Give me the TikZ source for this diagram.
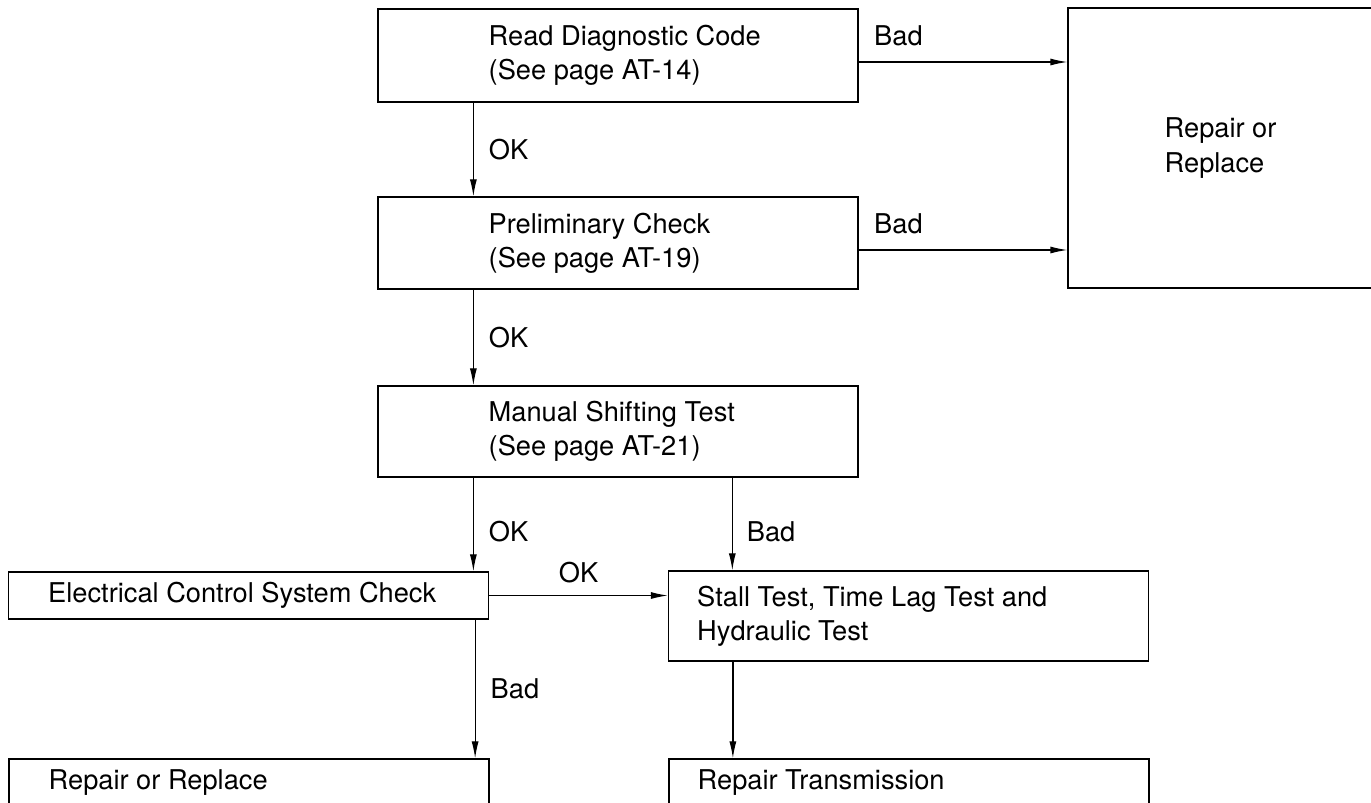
\documentclass[tikz,border=0pt]{standalone}
\usepackage{fontspec}
\setsansfont{TeX Gyre Heros}
\usetikzlibrary{arrows.meta}
\usetikzlibrary{positioning}

\begin{document}
\begin{tikzpicture}[x=0.02cm, y=-0.02cm,
	>={Latex[width=1.4mm,length=3.4mm]},
    box/.style = {rectangle, draw=black, line width=0.75pt,
                  minimum width=9.6cm, inner sep=0pt},
    txt/.style = {anchor=west, align=left, inner sep=0pt,
                  font=\sffamily\fontsize{15.5}{19.5}\selectfont},
    tag/.style = {txt, anchor=center}]
  \useasboundingbox (0,0) rectangle (1371,802);

  % boxes
  \node (diag) [box, minimum height=1.86cm] at (618,55.5) {};
  \node (prelim) [box, minimum height=1.84cm] at (618,243) {};
  \node (manual) [box, minimum height=1.82cm] at (618,431.5) {};
  \node (repl) [box, minimum height=5.6cm] at (1308,148) {};
  \node (elec) [box, minimum height=0.94cm] at (248.5,595.5) {};
  \node (stall) [box, minimum height=1.8cm] at (908.5,616) {};
  \node (fixit) [box, minimum height=0.94cm] at (249,782.5) {};
  \node (trans) [box, minimum height=0.94cm] at (909,782.5) {};

  % texts
  \node (diagtxt) [txt] at ([xshift=2.22cm]diag.west) {Read Diagnostic Code\\(See page AT-14)};
  \node (prelimtxt) [txt] at ([xshift=2.22cm]prelim.west) {Preliminary Check\\(See page AT-19)};
  \node (manualtxt) [txt] at ([xshift=2.22cm]manual.west) {Manual Shifting Test\\(See page AT-21)};
  \node (repltxt) [txt] at ([xshift=1.94cm]repl.west) {Repair or\\Replace};
  \node (electxt) [txt] at ([xshift=0.8cm]elec.west) {Electrical Control System Check};
  \node (stalltxt) [txt] at ([xshift=0.58cm]stall.west) {Stall Test, Time Lag Test and\\Hydraulic Test};
  \node (fixittxt) [txt] at ([xshift=0.8cm]fixit.west) {Repair or Replace};
  \node (transtxt) [txt] at ([xshift=0.58cm]trans.west) {Repair Transmission};

  \path[->, line width=0.7pt]
	([xshift=1.92cm]diag.south west) edge node[tag, right=0.3cm] {OK}
	  ([xshift=1.92cm]prelim.north west)
	([xshift=1.92cm]prelim.south west) edge node[tag, right=0.3cm] {OK}
	  ([xshift=1.92cm]manual.north west)
	([xshift=1.92cm]manual.south west) edge node[tag, pos=0.58, right=0.3cm] {OK}
	  ([xshift=1.92cm]manual.south west |- elec.north)
	([xshift=7.1cm]manual.south west) edge node[tag, pos=0.58, right=0.28cm] {Bad}
	  ([xshift=7.1cm]manual.south west |- stall.north)
	(elec.east) edge node[tag, above=0.24cm] {OK} (elec.east -| stall.west)
	([xshift=-0.28cm]elec.south east) edge node[tag, right=0.3cm] {Bad}
	  ([xshift=-0.28cm]elec.south east |- fixit.north)
	([xshift=1.3cm]stall.south west) edge ([xshift=1.3cm]stall.south west |- trans.north);

  \path[->, line width=0.7pt]
	([yshift=-0.13cm]diag.east) edge node[tag, pos=0, above right=0.3cm and 0.3cm] {Bad}
	  ([yshift=-0.13cm]diag.east -| repl.west)
	([yshift=-0.14cm]prelim.east) edge node[tag, pos=0, above right=0.3cm and 0.3cm] {Bad}
	  ([yshift=-0.14cm]prelim.east -| repl.west);
\end{tikzpicture}
\end{document}
